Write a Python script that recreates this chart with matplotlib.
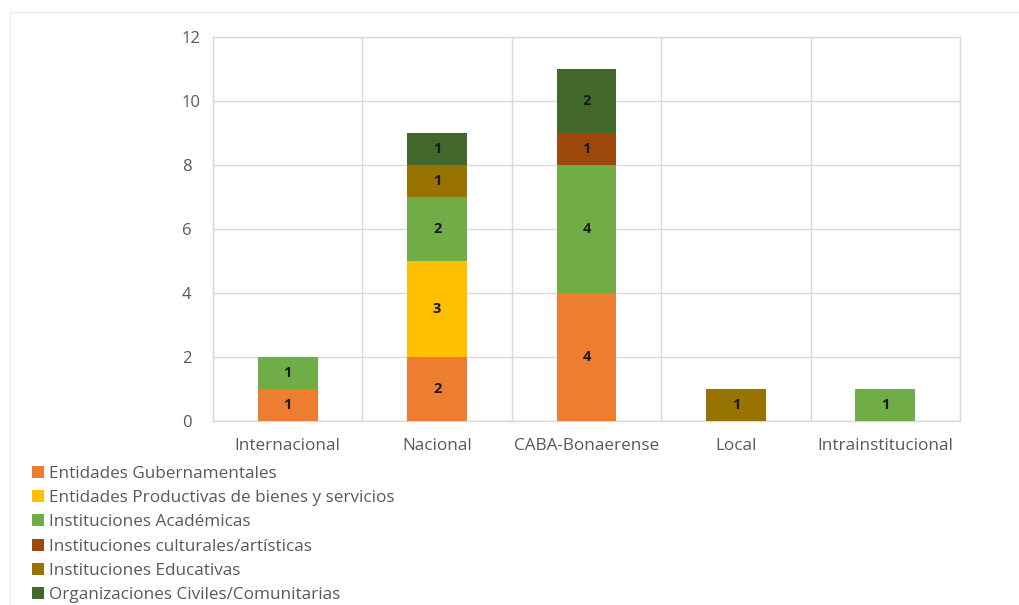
import matplotlib
matplotlib.use("Agg")
import matplotlib.pyplot as plt
from matplotlib.lines import Line2D
from matplotlib.patches import Patch
import numpy as np

plt.rcParams['font.family'] = ['Open Sans', 'DejaVu Sans']

categories = ["Internacional", "Nacional", "CABA-Bonaerense", "Local", "Intrainstitucional"]
series_names = [
    "Entidades Gubernamentales",
    "Entidades Productivas de bienes y servicios",
    "Instituciones Académicas",
    "Instituciones culturales/artísticas",
    "Instituciones Educativas",
    "Organizaciones Civiles/Comunitarias",
]
gubernamentales = [1, 2, 4, 0, 0]
productivas = [0, 3, 0, 0, 0]
academicas = [1, 2, 4, 0, 1]
culturales = [0, 0, 1, 0, 0]
educativas = [0, 1, 0, 1, 0]
civiles = [0, 1, 2, 0, 0]
y_ticks = [0, 2, 4, 6, 8, 10, 12]

series_values = [gubernamentales, productivas, academicas, culturales, educativas, civiles]
colors = ["#ED7D31", "#FFC000", "#70AD47", "#9E480E", "#997300", "#43682B"]

fig = plt.figure(figsize=(10.19, 6.05), dpi=100)
ax = fig.add_axes([213 / 1019, 1 - 421 / 605, (960 - 213) / 1019, (421 - 37) / 605])

x = np.arange(len(categories))
bottom = np.zeros(len(categories))
for name, vals, col in zip(series_names, series_values, colors):
    vals = np.array(vals, dtype=float)
    bars = ax.bar(x, vals, width=0.4, bottom=bottom, color=col, label=name, zorder=3)
    for rect, v, b in zip(bars, vals, bottom):
        if v > 0:
            ax.text(rect.get_x() + rect.get_width() / 2, b + v / 2, f"{int(v)}",
                    ha="center", va="center", fontsize=10.5, fontweight="bold",
                    color="#1a1a1a", zorder=4)
    bottom += vals

ax.set_xlim(-0.5, len(categories) - 0.5)
ax.set_ylim(0, 12)
ax.set_yticks(y_ticks)
ax.set_xticks(x)
ax.set_xticklabels(categories)
ax.set_xticks(np.arange(-0.5, len(categories), 1.0), minor=True)
ax.grid(axis="y", which="major", color="#d9d9d9", linewidth=1, zorder=0)
ax.grid(axis="x", which="minor", color="#d9d9d9", linewidth=1, zorder=0)
ax.tick_params(axis="both", which="both", length=0, colors="#595959")
ax.tick_params(axis="x", labelsize=12.3, pad=12)
ax.tick_params(axis="y", labelsize=12, pad=22.3)
for lbl in ax.get_yticklabels():
    lbl.set_horizontalalignment("left")
for s in ax.spines.values():
    s.set_color("#d9d9d9")
    s.set_linewidth(1)

handles = [Patch(facecolor=c, edgecolor="none") for c in colors]
fig.legend(handles, series_names, loc="upper left",
           bbox_to_anchor=(32 / 1019, 1 - 466 / 605), frameon=False,
           fontsize=12.3, labelcolor="#595959", handlelength=0.7, handleheight=0.7,
           handletextpad=0.3, labelspacing=0.48, borderpad=0, borderaxespad=0)

# chart area border
fig.add_artist(Line2D([10 / 1019, 1], [1 - 12 / 605, 1 - 12 / 605],
                      transform=fig.transFigure, color="#ececec", linewidth=1))
fig.add_artist(Line2D([10 / 1019, 10 / 1019], [0, 1 - 12 / 605],
                      transform=fig.transFigure, color="#ececec", linewidth=1))

fig.savefig("out.png", dpi=100)
